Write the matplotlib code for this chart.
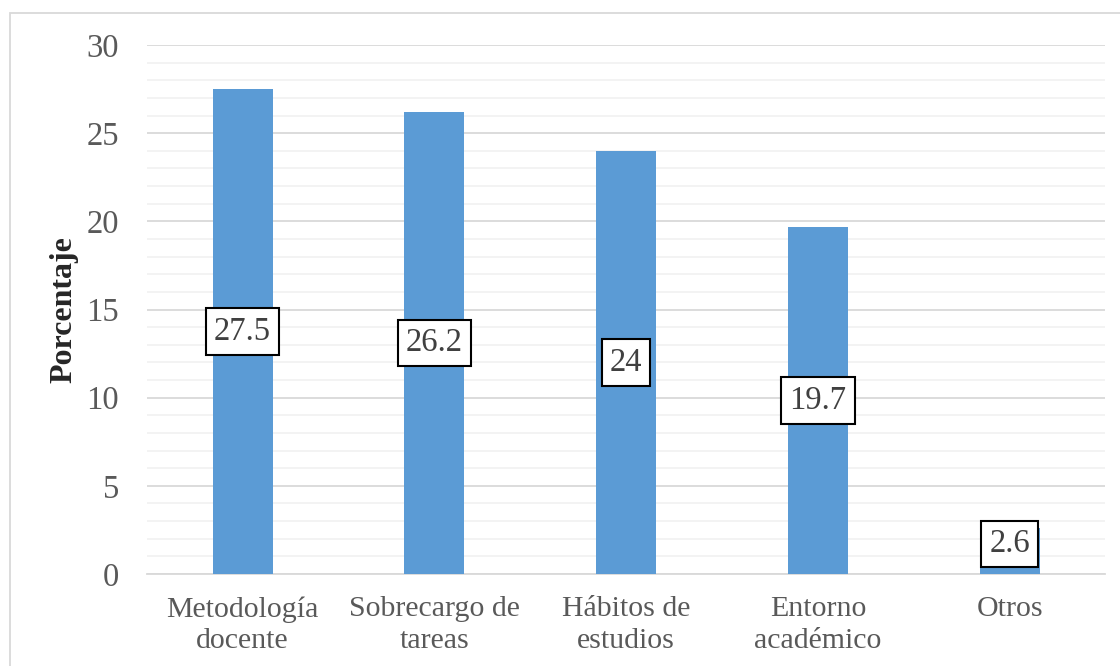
import matplotlib
matplotlib.use("Agg")
import matplotlib.pyplot as plt
from matplotlib.patches import Rectangle
from matplotlib.ticker import MultipleLocator

# data
categories = ["Metodología\ndocente", "Sobrecargo de\ntareas", "Hábitos de\nestudios",
              "Entorno\nacadémico", "Otros"]
values = [27.5, 26.2, 24, 19.7, 2.6]
value_labels = ["27.5", "26.2", "24", "19.7", "2.6"]

plt.rcParams["font.family"] = ["Liberation Serif", "DejaVu Serif"]

fig = plt.figure(figsize=(11.2, 6.66), dpi=100)
ax = fig.add_axes([0.131, 0.1381, 0.856, 0.7943])

x = range(len(categories))
ax.bar(x, values, width=0.313, color="#5B9BD5", zorder=3)

# labels in boxes, centred on each bar
for xi, v, lab in zip(x, values, value_labels):
    ax.text(xi, max(v / 2, 1.7), lab, ha="center", va="center", fontsize=23.5,
            color="#404040", zorder=4,
            bbox=dict(boxstyle="square,pad=0.25", facecolor="white",
                      edgecolor="black", linewidth=1.5))

ax.set_xlim(-0.5, len(categories) - 0.5)
ax.set_ylim(0, 30)
ax.yaxis.set_major_locator(MultipleLocator(5))
ax.yaxis.set_minor_locator(MultipleLocator(1))
ax.grid(axis="y", which="major", color="#D9D9D9", linewidth=1.3, zorder=0)
ax.grid(axis="y", which="minor", color="#F2F2F2", linewidth=1.3, zorder=0)

ax.set_xticks(list(x))
ax.set_xticklabels(categories, fontsize=21.5, color="#595959", linespacing=1.27)
ax.tick_params(axis="x", length=0, pad=16)
ax.tick_params(axis="y", which="both", length=0, pad=20, labelsize=23.5, labelcolor="#595959")

for side in ["top", "right", "left"]:
    ax.spines[side].set_visible(False)
ax.spines["bottom"].set_color("#D9D9D9")
ax.spines["bottom"].set_linewidth(1.3)

ax.set_ylabel("Porcentaje", fontsize=23, fontweight="bold", color="#262626", labelpad=6)

# chart area border
fig.patches.append(Rectangle((0.009, -0.01), 1.0, 0.99, transform=fig.transFigure,
                             fill=False, edgecolor="#D9D9D9", linewidth=1.3))

fig.savefig("out.png", dpi=100)
